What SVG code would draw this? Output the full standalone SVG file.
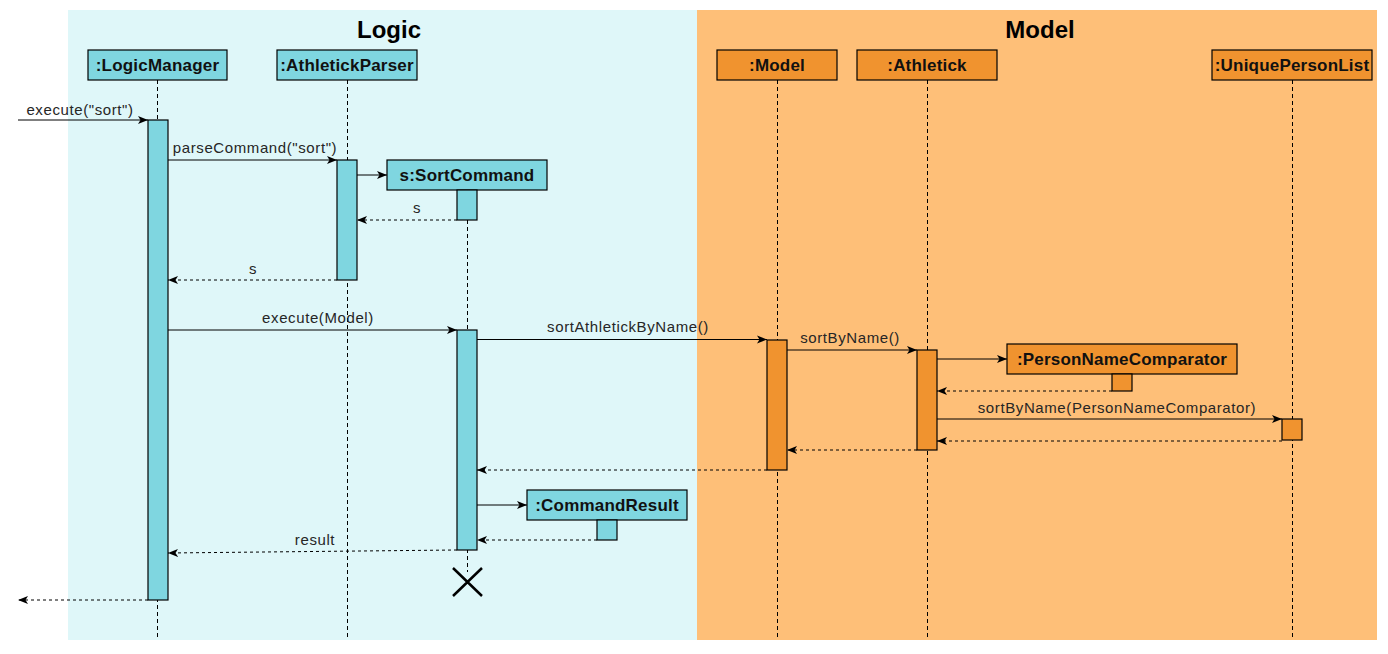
<svg xmlns="http://www.w3.org/2000/svg" width="1388" height="654" viewBox="0 0 1388 654">
<style>
.lbl{font-family:"Liberation Sans",Arial,sans-serif;font-size:15px;letter-spacing:0.6px;fill:#262626;text-anchor:middle}
.box{stroke:#000;stroke-width:1.2}
.cy{fill:#7FD6E0}
.or{fill:#F0932F}
.bt{font-family:"Liberation Sans",Arial,sans-serif;font-size:17px;letter-spacing:0.2px;font-weight:bold;fill:#111;text-anchor:middle}
.ttl{font-family:"Liberation Sans",Arial,sans-serif;font-size:24px;font-weight:bold;fill:#000;text-anchor:middle}
.life{stroke:#000;stroke-width:1;stroke-dasharray:4 3;fill:none}
.msg{stroke:#000;stroke-width:1;fill:none;marker-end:url(#ah)}
.ret{stroke:#000;stroke-width:1;fill:none;stroke-dasharray:3 3;marker-end:url(#ah)}
</style>
<defs>
<marker id="ah" viewBox="0 0 10 10" refX="10" refY="5" markerWidth="10" markerHeight="10" markerUnits="userSpaceOnUse" orient="auto">
<path d="M0,1 L10,5 L0,9 L2.5,5 Z" fill="#000"/>
</marker>
</defs>
<rect width="1388" height="654" fill="#fff"/>
<g id="logic-frame">
<rect x="68" y="10" width="629" height="630" fill="#DFF7F9"/>
<text class="ttl" x="389" y="38">Logic</text>
</g>
<g id="model-frame">
<rect x="697" y="10" width="680" height="630" fill="#FEBF78"/>
<text class="ttl" x="1040" y="38">Model</text>
</g>
<g id="lifelines">
<line class="life" x1="157.5" y1="80" x2="157.5" y2="640"/>
<line class="life" x1="347.5" y1="80" x2="347.5" y2="640"/>
<line class="life" x1="467.5" y1="220" x2="467.5" y2="572"/>
<line class="life" x1="777.5" y1="80" x2="777.5" y2="640"/>
<line class="life" x1="927.5" y1="80" x2="927.5" y2="640"/>
<line class="life" x1="1292.5" y1="80" x2="1292.5" y2="640"/>
</g>
<g id="LogicManager">
<rect class="box cy" x="88" y="50" width="139" height="30"/>
<text class="bt" x="157.5" y="71">:LogicManager</text>
<rect class="box cy" x="148" y="120" width="20" height="480"/>
</g>
<g id="AthletickParser">
<rect class="box cy" x="277" y="50" width="140" height="30"/>
<text class="bt" x="347" y="71">:AthletickParser</text>
<rect class="box cy" x="337" y="160" width="20" height="120"/>
</g>
<g id="SortCommand">
<rect class="box cy" x="387" y="160" width="160" height="30"/>
<text class="bt" x="467" y="181">s:SortCommand</text>
<rect class="box cy" x="457" y="190" width="20" height="30"/>
<rect class="box cy" x="457" y="330" width="20" height="220"/>
<path d="M453,568 L482,596 M482,568 L453,596" stroke="#000" stroke-width="2.5" fill="none"/>
</g>
<g id="CommandResult">
<rect class="box cy" x="527" y="490" width="160" height="30"/>
<text class="bt" x="607" y="511">:CommandResult</text>
<rect class="box cy" x="597" y="520" width="20" height="20"/>
</g>
<g id="Model">
<rect class="box or" x="717" y="50" width="120" height="30"/>
<text class="bt" x="777" y="71">:Model</text>
<rect class="box or" x="767" y="340" width="20" height="130"/>
</g>
<g id="Athletick">
<rect class="box or" x="857" y="50" width="140" height="30"/>
<text class="bt" x="927" y="71">:Athletick</text>
<rect class="box or" x="917" y="350" width="20" height="100"/>
</g>
<g id="PersonNameComparator">
<rect class="box or" x="1007" y="344" width="230" height="30"/>
<text class="bt" x="1122" y="365">:PersonNameComparator</text>
<rect class="box or" x="1112" y="374" width="20" height="17"/>
</g>
<g id="UniquePersonList">
<rect class="box or" x="1212" y="50" width="160" height="30"/>
<text class="bt" x="1292" y="71">:UniquePersonList</text>
<rect class="box or" x="1282" y="419" width="20" height="21"/>
</g>
<g id="connectors">
<line class="msg" x1="18" y1="120" x2="148" y2="120"/>
<text class="lbl" x="80" y="115">execute("sort")</text>
<line class="msg" x1="168" y1="160" x2="337" y2="160"/>
<text class="lbl" x="255" y="153">parseCommand("sort")</text>
<line class="msg" x1="357" y1="175" x2="387" y2="175"/>
<line class="ret" x1="457" y1="220" x2="357" y2="220"/>
<text class="lbl" x="417" y="213">s</text>
<line class="ret" x1="337" y1="280" x2="168" y2="280"/>
<text class="lbl" x="253" y="274">s</text>
<line class="msg" x1="168" y1="330" x2="457" y2="330"/>
<text class="lbl" x="318" y="323">execute(Model)</text>
<line class="msg" x1="477" y1="339.5" x2="767" y2="339.5"/>
<text class="lbl" x="628" y="332">sortAthletickByName()</text>
<line class="msg" x1="787" y1="350" x2="917" y2="350"/>
<text class="lbl" x="850" y="343">sortByName()</text>
<line class="msg" x1="937" y1="359" x2="1007" y2="359"/>
<line class="ret" x1="1112" y1="391" x2="937" y2="391"/>
<line class="msg" x1="937" y1="419" x2="1282" y2="419"/>
<text class="lbl" x="1117" y="413">sortByName(PersonNameComparator)</text>
<line class="ret" x1="1282" y1="441" x2="937" y2="441"/>
<line class="ret" x1="917" y1="450" x2="787" y2="450"/>
<line class="ret" x1="767" y1="470" x2="477" y2="470"/>
<line class="msg" x1="477" y1="505" x2="527" y2="505"/>
<line class="ret" x1="597" y1="540" x2="477" y2="540"/>
<line class="ret" x1="457" y1="550" x2="168" y2="553"/>
<text class="lbl" x="315" y="545">result</text>
<line class="ret" x1="148" y1="600" x2="18" y2="600"/>
</g>
</svg>
